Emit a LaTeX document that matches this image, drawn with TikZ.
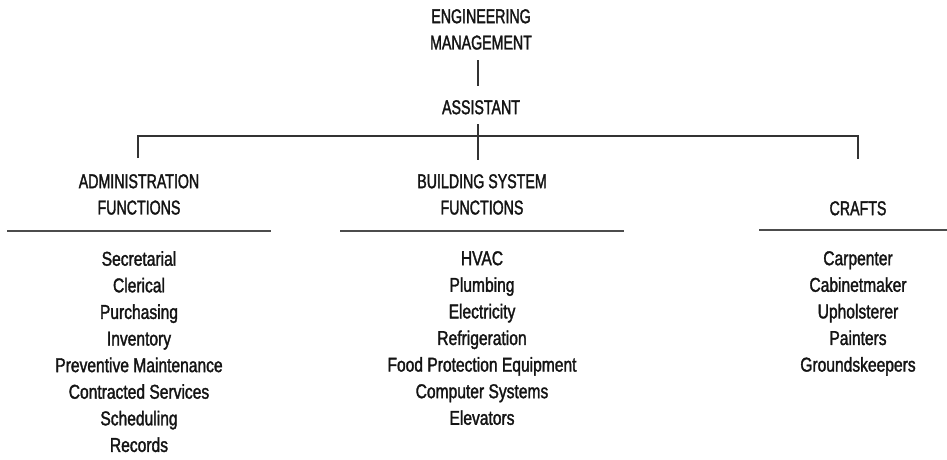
\documentclass[tikz,border=0pt]{standalone}
\usepackage{fontspec}
\newfontfamily\hdrfont[FakeStretch=0.71,FakeBold=1.6]{Liberation Sans}
\newfontfamily\itemfont[FakeStretch=0.78,FakeBold=1.6]{Liberation Sans}
\begin{document}
\begin{tikzpicture}[x=1pt,y=-1pt,
  hdr/.style={font=\hdrfont\fontsize{20}{26.3}\selectfont, align=center, inner sep=0pt, text=black!92},
  lst/.style={font=\itemfont\fontsize{20}{26.6}\selectfont, align=center, inner sep=0pt, text=black!92},
  conn/.style={line width=1.1pt, draw=black!80},
  rule/.style={line width=1.1pt, draw=black!70}]
\useasboundingbox (0,0) rectangle (947,459);
% headers
\node[hdr, anchor=north] (eng) at (481,9) {ENGINEERING\\MANAGEMENT};
\node[hdr, anchor=north] (asst) at (481,100) {ASSISTANT};
\node[hdr, anchor=north] (adm) at (139,174) {ADMINISTRATION\\FUNCTIONS};
\node[hdr, anchor=north] (bsf) at (482,174) {BUILDING SYSTEM\\FUNCTIONS};
\node[hdr, anchor=north] (cr) at (858,201) {CRAFTS};
% lists
\node[lst, anchor=north] (admlist) at (139,251) {Secretarial\\Clerical\\Purchasing\\Inventory\\Preventive Maintenance\\Contracted Services\\Scheduling\\Records};
\node[lst, anchor=north] (bslist) at (482,251) {HVAC\\Plumbing\\Electricity\\Refrigeration\\Food Protection Equipment\\Computer Systems\\Elevators};
\node[lst, anchor=north] (crlist) at (858,251) {Carpenter\\Cabinetmaker\\Upholsterer\\Painters\\Groundskeepers};
% connectors
\coordinate (barL) at (138,136);
\coordinate (barR) at (858,136);
\coordinate (admtop) at (138,158);
\coordinate (crtop) at (858,159);
\coordinate (bstop) at (478,160);
\coordinate (engbot) at (478,60);
\coordinate (asstop) at (478,86);
\coordinate (asstbot) at (478,124);
\draw[conn] (engbot) -- (asstop);
\draw[conn] (asstbot) -- (bstop);
\draw[conn] (admtop) -- (barL) -- (barR) -- (crtop);
% rules under headers
\draw[rule] (7,231) -- (271,231);
\draw[rule] (340,231) -- (624,231);
\draw[rule] (759,230) -- (947,230);
\end{tikzpicture}
\end{document}
